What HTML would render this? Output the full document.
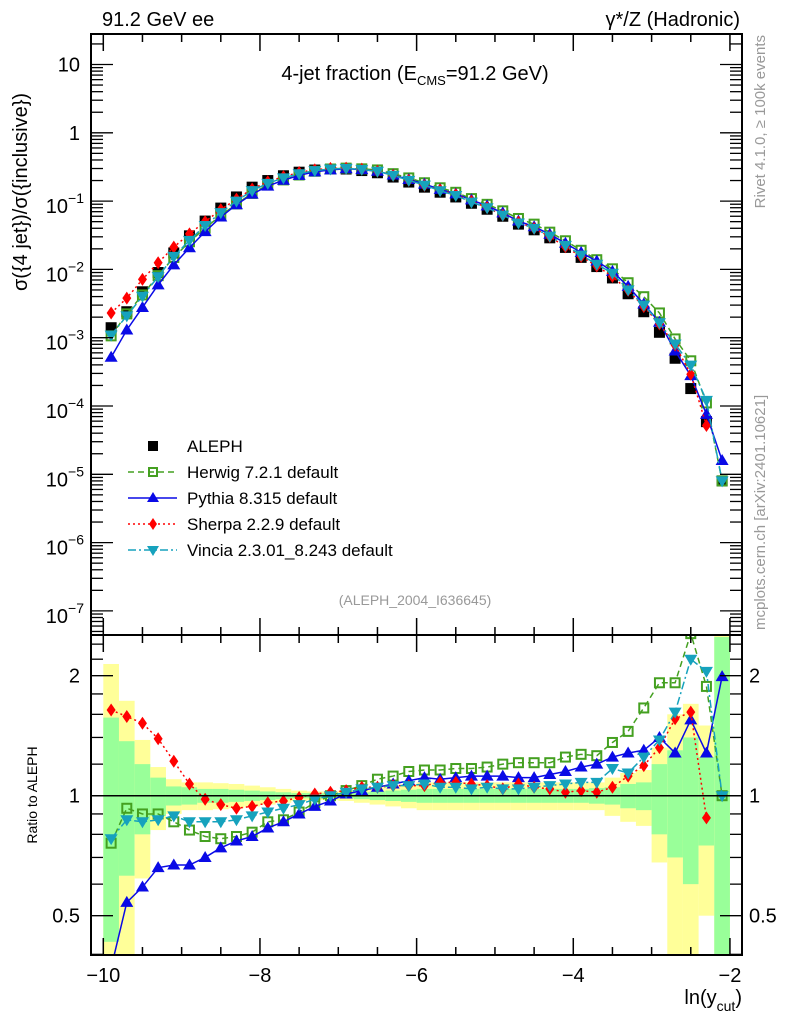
<!DOCTYPE html>
<html><head><meta charset="utf-8"><style>
html,body{margin:0;padding:0;background:#fff;}
svg{display:block;font-family:"Liberation Sans",sans-serif;}
</style></head><body>
<svg id="chart" width="786" height="1024" viewBox="0 0 786 1024" xmlns="http://www.w3.org/2000/svg">
<defs>
<clipPath id="clipMain"><rect x="91" y="34" width="651" height="601"/></clipPath>
<clipPath id="clipRatio"><rect x="91" y="635" width="651" height="320"/></clipPath>
</defs>
<g id="bands" clip-path="url(#clipRatio)"></g>
<g id="grid"></g>
<g id="mainSeries" clip-path="url(#clipMain)"></g>
<g id="ratioSeries" clip-path="url(#clipRatio)"></g>
<g id="axes"></g>
<text x="102" y="26" font-size="20">91.2 GeV ee</text>
<text x="740" y="26" font-size="20" text-anchor="end">γ*/Z (Hadronic)</text>
<text x="415" y="80" font-size="20" text-anchor="middle">4-jet fraction (E<tspan font-size="13" dy="5">CMS</tspan><tspan dy="-5">=91.2 GeV)</tspan></text>
<text transform="translate(27,192) rotate(-90)" font-size="20" text-anchor="middle">σ({4 jet})/σ({inclusive})</text>
<text transform="translate(37,795) rotate(-90)" font-size="14" text-anchor="middle">Ratio to ALEPH</text>
<text x="742" y="1004" font-size="20" text-anchor="end">ln(y<tspan font-size="14" dy="7">cut</tspan><tspan dy="-7">)</tspan></text>
<text transform="translate(765,35) rotate(-90)" font-size="15" fill="#999" text-anchor="end">Rivet 4.1.0, ≥ 100k events</text>
<text transform="translate(765,630) rotate(-90)" font-size="15" fill="#999">mcplots.cern.ch [arXiv:2401.10621]</text>
<text x="415" y="605" font-size="14" fill="#999" text-anchor="middle">(ALEPH_2004_I636645)</text>
<g id="legend"></g>
</svg>
<script>
const xCenters = [-9.9,-9.7,-9.5,-9.3,-9.1,-8.9,-8.7,-8.5,-8.3,-8.1,-7.9,-7.7,-7.5,-7.3,-7.1,-6.9,-6.7,-6.5,-6.3,-6.1,-5.9,-5.7,-5.5,-5.3,-5.1,-4.9,-4.7,-4.5,-4.3,-4.1,-3.9,-3.7,-3.5,-3.3,-3.1,-2.9,-2.7,-2.5,-2.3,-2.1];
const alephValues = [1.4e-3,2.4e-3,4.7e-3,9e-3,0.0174,0.031,0.051,0.079,0.115,0.16,0.2,0.235,0.265,0.285,0.295,0.295,0.28,0.26,0.225,0.19,0.16,0.135,0.115,0.093,0.076,0.060,0.046,0.038,0.029,0.021,0.015,0.011,0.0075,0.0044,2.4e-3,1.2e-3,5e-4,1.8e-4,5.9e-5,8e-6];
const herwigRatio = [0.76,0.93,0.90,0.90,0.86,0.82,0.79,0.78,0.79,0.81,0.86,0.87,0.91,0.96,1.0,1.03,1.06,1.10,1.12,1.15,1.16,1.16,1.17,1.17,1.18,1.20,1.21,1.21,1.21,1.25,1.27,1.26,1.36,1.45,1.66,1.92,1.92,2.55,1.88,1.0];
const pythiaRatio = [0.37,0.54,0.59,0.66,0.67,0.67,0.70,0.74,0.77,0.79,0.83,0.86,0.90,0.94,0.97,1.01,1.03,1.05,1.07,1.09,1.11,1.10,1.11,1.12,1.12,1.12,1.11,1.11,1.13,1.15,1.18,1.20,1.25,1.28,1.30,1.40,1.28,1.55,1.28,1.99];
const sherpaRatio = [1.64,1.58,1.52,1.39,1.22,1.07,0.98,0.95,0.93,0.94,0.96,0.97,0.99,1.01,1.02,1.03,1.05,1.05,1.06,1.06,1.06,1.08,1.08,1.07,1.06,1.04,1.07,1.05,1.04,1.02,1.03,1.02,1.05,1.12,1.19,1.32,1.56,1.62,0.88,null];
const vinciaRatio = [0.78,0.87,0.86,0.87,0.89,0.86,0.86,0.86,0.87,0.89,0.91,0.93,0.95,0.98,1.0,1.02,1.04,1.05,1.06,1.06,1.07,1.05,1.05,1.04,1.05,1.04,1.04,1.05,1.06,1.07,1.08,1.08,1.17,1.14,1.25,1.38,1.62,2.20,2.05,1.0];
const statErr = [0.57,0.37,0.20,0.11,0.055,0.05,0.04,0.04,0.035,0.03,0.025,0.02,0.015,0.015,0.015,0.015,0.02,0.025,0.03,0.035,0.04,0.04,0.04,0.04,0.04,0.04,0.04,0.04,0.04,0.04,0.04,0.045,0.05,0.07,0.08,0.2,0.3,0.4,0.25,1.5];
const totErr = [1.14,0.73,0.38,0.18,0.10,0.08,0.08,0.075,0.07,0.06,0.05,0.04,0.03,0.025,0.025,0.03,0.04,0.05,0.06,0.07,0.08,0.08,0.08,0.08,0.08,0.08,0.08,0.08,0.08,0.08,0.08,0.08,0.11,0.14,0.16,0.32,0.6,0.7,0.5,1.6];
const xTickLabels = [-10,-8,-6,-4,-2];
const yDecades = [1,0,-1,-2,-3,-4,-5,-6,-7];
const ratioTicks = [2,1,0.5];

const NS="http://www.w3.org/2000/svg";
function X(v){return 103.3+(v+10)*78.33;}
function Y(v){return 64.5-(Math.log10(v)-1)*68.3;}
function R(r){return 795.7-120*Math.log2(r);}
function el(tag,attrs,parent){const e=document.createElementNS(NS,tag);for(const k in attrs)e.setAttribute(k,attrs[k]);parent.appendChild(e);return e;}
const bands=document.getElementById('bands'),grid=document.getElementById('grid'),axes=document.getElementById('axes'),mainS=document.getElementById('mainSeries'),ratioS=document.getElementById('ratioSeries'),legend=document.getElementById('legend');

xCenters.forEach((c,i)=>{
  const x0=X(c-0.1),x1=X(c+0.1);
  const ylo=1-totErr[i]>0.01?R(1-totErr[i]):960;
  const y=el('rect',{x:x0,y:R(1+totErr[i]),width:x1-x0,height:ylo-R(1+totErr[i]),fill:'#ffff99'},bands);
  
  
  const glo=1-statErr[i]>0.01?R(1-statErr[i]):960;
  const g=el('rect',{x:x0,y:R(1+statErr[i]),width:x1-x0,height:glo-R(1+statErr[i]),fill:'#99ff99'},bands);
  
  
});

const f1=el('rect',{x:91,y:34,width:651,height:601,fill:'none',stroke:'#000','stroke-width':2},axes);


const f2=el('rect',{x:91,y:635,width:651,height:320,fill:'none',stroke:'#000','stroke-width':2},axes);


const one=el('line',{x1:91,x2:742,y1:R(1),y2:R(1),stroke:'#000','stroke-width':1.5},axes);



for(let v=-10;v<=-2.001+0.5;v+=0.5){
  const x=X(v);const major=Math.abs(v-Math.round(v/2)*2)<1e-6;const L=major?17:8;
  [[34,1],[635,-1],[635,1],[955,-1]].forEach(([y0,d])=>el('line',{x1:x,x2:x,y1:y0,y2:y0+d*L,stroke:'#000','stroke-width':1.5},axes));
}
xTickLabels.forEach(v=>{const t=el('text',{x:X(v),y:982,'font-size':20,'text-anchor':'middle'},axes);t.textContent=(v<0?'−':'')+Math.abs(v);

});

for(let d=-8;d<=1;d++){
  for(let m=1;m<10;m++){
    const y=Y(m*Math.pow(10,d));if(y<34||y>635)continue;
    const L=m===1?22:12;
    el('line',{x1:91,x2:91+L,y1:y,y2:y,stroke:'#000','stroke-width':1.3},axes);
    el('line',{x1:742,x2:742-L,y1:y,y2:y,stroke:'#000','stroke-width':1.3},axes);
  }
}
yDecades.forEach(d=>{
  const y=Y(Math.pow(10,d));
  const t=el('text',{x:80,y:y+7,'font-size':20,'text-anchor':'end'},axes);
  
  
  if(d===1)t.textContent='10';else if(d===0)t.textContent='1';
  else{t.setAttribute('x',84);t.setAttribute('y',y+12);t.textContent='10';const s=el('tspan',{'font-size':14,dy:-10},t);s.textContent='−'+Math.abs(d);}
});
[0.4,0.5,0.6,0.7,0.8,0.9,1,1.2,1.4,1.6,1.8,2,2.2,2.4].forEach(r=>{
  const y=R(r);if(y<635||y>955)return;const L=(r===0.5||r===1||r===2)?22:12;
  el('line',{x1:91,x2:91+L,y1:y,y2:y,stroke:'#000','stroke-width':1.3},axes);
  el('line',{x1:742,x2:742-L,y1:y,y2:y,stroke:'#000','stroke-width':1.3},axes);
});
ratioTicks.forEach(r=>{
  const t=el('text',{x:80,y:R(r)+7,'font-size':20,'text-anchor':'end'},axes);t.textContent=String(r);
  
  
  const t2=el('text',{x:749,y:R(r)+7,'font-size':20},axes);t2.textContent=String(r);
  
  
});

function marker(type,x,y,color,parent,s){
  s=s||5.5;let e;
  if(type==='sq')e=el('rect',{x:x-s,y:y-s,width:2*s,height:2*s,fill:'#000'},parent);
  else if(type==='osq')e=el('rect',{x:x-s+1,y:y-s+1,width:2*s-2,height:2*s-2,fill:'none',stroke:color,'stroke-width':2},parent);
  else if(type==='tu')e=el('polygon',{points:`${x},${y-s-1} ${x-s-1},${y+s-1} ${x+s+1},${y+s-1}`,fill:color},parent);
  else if(type==='td')e=el('polygon',{points:`${x},${y+s+1} ${x-s-1},${y-s+1} ${x+s+1},${y-s+1}`,fill:color},parent);
  else if(type==='dia')e=el('polygon',{points:`${x},${y-s-1} ${x-s+1},${y} ${x},${y+s+1} ${x+s-1},${y}`,fill:color},parent);
  return e;
}
const models=[
 {name:'herwig',label:'Herwig 7.2.1 default',ratio:herwigRatio,color:'#44a020',dash:'6,4',m:'osq'},
 {name:'pythia',label:'Pythia 8.315 default',ratio:pythiaRatio,color:'#0a0ae6',dash:'',m:'tu'},
 {name:'sherpa',label:'Sherpa 2.2.9 default',ratio:sherpaRatio,color:'#ff0000',dash:'2,3',m:'dia'},
 {name:'vincia',label:'Vincia 2.3.01_8.243 default',ratio:vinciaRatio,color:'#16a2bd',dash:'8,3,2,3',m:'td'}
];
xCenters.forEach((c,i)=>{const e=marker('sq',X(c),Y(alephValues[i]),'#000',mainS,5.5);

});
models.forEach(md=>{
  const pm=[],pr=[];
  xCenters.forEach((c,i)=>{const r=md.ratio[i];if(r==null)return;pm.push([X(c),Y(alephValues[i]*r)]);pr.push([X(c),R(r)]);});
  const l1=el('polyline',{points:pm.map(p=>p.join(',')).join(' '),fill:'none',stroke:md.color,'stroke-width':1.5,'stroke-dasharray':md.dash},mainS);
  
  
  const l2=el('polyline',{points:pr.map(p=>p.join(',')).join(' '),fill:'none',stroke:md.color,'stroke-width':1.5,'stroke-dasharray':md.dash},ratioS);
  
  
  pm.forEach(p=>{const e=marker(md.m,p[0],p[1],md.color,mainS);
  
  });
  pr.forEach(p=>{const e=marker(md.m,p[0],p[1],md.color,ratioS);
  
  });
});
const ly=[446,472,498,524,550];
const ent=[{label:'ALEPH',m:'sq',color:'#000',dash:null}].concat(models);
ent.forEach((e,i)=>{
  const g=el('g',{},legend);
  
  
  if(e.dash!==null&&e.dash!==undefined)el('line',{x1:128,x2:177,y1:ly[i],y2:ly[i],stroke:e.color,'stroke-width':1.5,'stroke-dasharray':e.dash},g);
  marker(e.m,153,ly[i],e.color,g,5);
  const t=el('text',{x:187,y:ly[i]+6,'font-size':17},g);t.textContent=e.label;
});
</script>
</body></html>
